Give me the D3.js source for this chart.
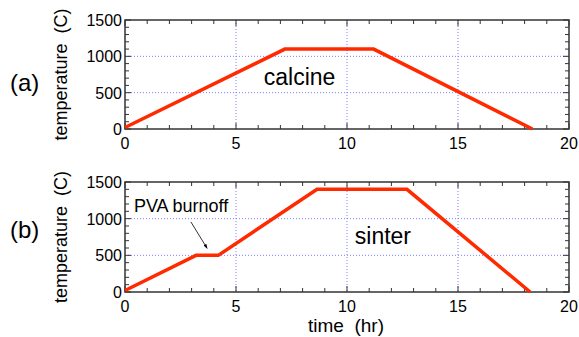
<!DOCTYPE html>
<html>
<head>
<meta charset="utf-8">
<script src="https://cdn.jsdelivr.net/npm/d3@7"></script>
<style>
  body { margin: 0; background: #fff; }
  text { font-family: "Liberation Sans", Arial, sans-serif; fill: #000; }
</style>
</head>
<body>
<svg id="chart" width="579" height="337"></svg>
<script>
// firing schedules (time in hr, temperature in C)
const calcineTime = [0, 7.2, 11.2, 18.35];
const calcineTemp = [20, 1100, 1100, 0];
const sinterTime = [0, 3.2, 4.2, 8.65, 12.7, 18.25];
const sinterTemp = [20, 500, 500, 1400, 1400, 0];

const xTicks = [0, 5, 10, 15, 20];
const yTicks = [0, 500, 1000, 1500];
const xMinor = d3.range(0, 21, 1);
const yMinor = d3.range(0, 1501, 100);

const svg = d3.select('#chart');

const x = d3.scaleLinear().domain([0, 20]).range([125, 569]);

const panels = [
  { tag: '(a)', tagY: 91, top: 20, bottom: 129, time: calcineTime, temp: calcineTemp,
    label: 'calcine', lx: 6.25, ly: 600 },
  { tag: '(b)', tagY: 238, top: 182, bottom: 292, time: sinterTime, temp: sinterTemp,
    label: 'sinter', lx: 10.35, ly: 655 }
];

const line = d3.line();

svg.append('defs').append('marker')
  .attr('id', 'arrow')
  .attr('viewBox', '0 0 10 10')
  .attr('refX', 9).attr('refY', 5)
  .attr('markerWidth', 6).attr('markerHeight', 6)
  .attr('orient', 'auto')
  .append('path')
  .attr('d', 'M0,1.5L10,5L0,8.5Z')
  .attr('fill', '#000');

panels.forEach((p, idx) => {
  const y = d3.scaleLinear().domain([0, 1500]).range([p.bottom, p.top]);
  const g = svg.append('g');

  // grid
  g.selectAll('.gx').data([5, 10, 15]).enter().append('line')
    .attr('x1', d => x(d)).attr('x2', d => x(d))
    .attr('y1', p.top).attr('y2', p.bottom)
    .attr('stroke', '#7d7dff').attr('stroke-width', 1)
    .attr('stroke-dasharray', '1,2');
  g.selectAll('.gy').data([500, 1000]).enter().append('line')
    .attr('x1', x(0)).attr('x2', x(20))
    .attr('y1', d => y(d)).attr('y2', d => y(d))
    .attr('stroke', '#7d7dff').attr('stroke-width', 1)
    .attr('stroke-dasharray', '1,2');

  // inner ticks on all four sides
  const tickColor = '#333';
  const xt = g.append('g').attr('stroke', tickColor).attr('stroke-width', 1);
  xMinor.forEach(v => {
    const len = v % 5 === 0 ? 6 : 4;
    xt.append('line').attr('x1', x(v)).attr('x2', x(v)).attr('y1', p.bottom).attr('y2', p.bottom - len);
    xt.append('line').attr('x1', x(v)).attr('x2', x(v)).attr('y1', p.top).attr('y2', p.top + len);
  });
  yMinor.forEach(v => {
    const len = v % 500 === 0 ? 6 : 4;
    xt.append('line').attr('x1', x(0)).attr('x2', x(0) + len).attr('y1', y(v)).attr('y2', y(v));
    xt.append('line').attr('x1', x(20)).attr('x2', x(20) - len).attr('y1', y(v)).attr('y2', y(v));
  });

  // frame
  g.append('rect')
    .attr('x', x(0)).attr('y', p.top)
    .attr('width', x(20) - x(0)).attr('height', p.bottom - p.top)
    .attr('fill', 'none').attr('stroke', '#333').attr('stroke-width', 1.5);

  // tick labels
  g.selectAll('.xl').data(xTicks).enter().append('text')
    .attr('x', d => x(d)).attr('y', p.bottom + 20)
    .attr('text-anchor', 'middle').attr('font-size', 16)
    .text(d => d);
  g.selectAll('.yl').data(yTicks).enter().append('text')
    .attr('x', x(0) - 3).attr('y', d => y(d) + 6)
    .attr('text-anchor', 'end').attr('font-size', 16)
    .text(d => d);

  // y axis title
  g.append('text')
    .attr('transform', `translate(67, ${(p.top + p.bottom) / 2}) rotate(-90)`)
    .attr('text-anchor', 'middle').attr('font-size', 18)
    .attr('xml:space', 'preserve')
    .text('temperature  (C)');

  // panel tag
  g.append('text')
    .attr('x', 10).attr('y', p.tagY)
    .attr('font-size', 24)
    .text(p.tag);

  // schedule
  g.append('path')
    .attr('d', line(p.time.map((t, i) => [x(t), y(p.temp[i])])))
    .attr('fill', 'none').attr('stroke', '#ff2a00')
    .attr('stroke-width', 3.5).attr('stroke-linejoin', 'miter');

  g.append('text')
    .attr('x', x(p.lx)).attr('y', y(p.ly))
    .attr('font-size', 23)
    .text(p.label);

  if (idx === 1) {
    g.append('text')
      .attr('x', x(0.4)).attr('y', y(1090))
      .attr('font-size', 18)
      .text('PVA burnoff');
    g.append('line')
      .attr('x1', x(2.97)).attr('y1', y(955))
      .attr('x2', x(3.7)).attr('y2', y(595))
      .attr('stroke', '#000').attr('stroke-width', 0.8)
      .attr('marker-end', 'url(#arrow)');
  }
});

svg.append('text')
  .attr('x', 346).attr('y', 332)
  .attr('text-anchor', 'middle').attr('font-size', 19)
  .attr('xml:space', 'preserve')
  .text('time  (hr)');
</script>
</body>
</html>
